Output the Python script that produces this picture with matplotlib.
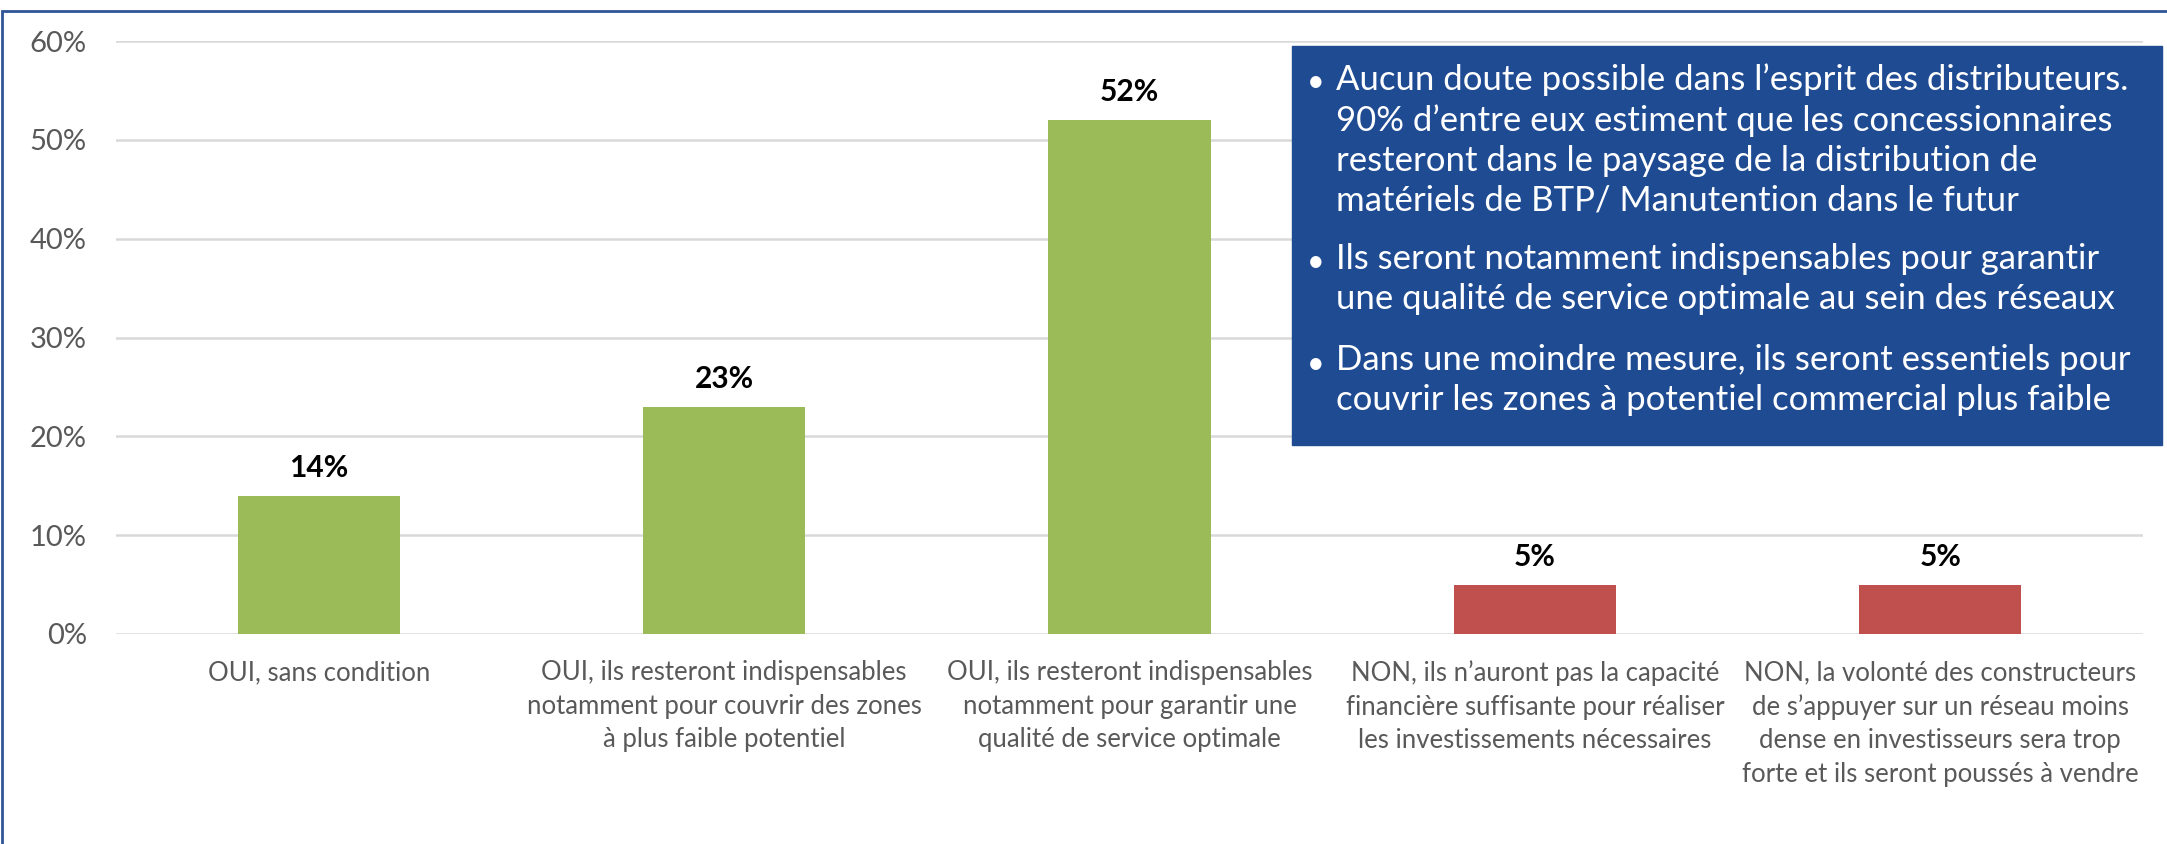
import matplotlib.pyplot as plt
from matplotlib.patches import Rectangle

# donnees du graphique
categories = [
    "OUI, sans condition",
    "OUI, ils resteront indispensables\nnotamment pour couvrir des zones\nà plus faible potentiel",
    "OUI, ils resteront indispensables\nnotamment pour garantir une\nqualité de service optimale",
    "NON, ils n\u2019auront pas la capacité\nfinancière suffisante pour réaliser\nles investissements nécessaires",
    "NON, la volonté des constructeurs\nde s\u2019appuyer sur un réseau moins\ndense en investisseurs sera trop\nforte et ils seront poussés à vendre",
]
valeurs = [0.14, 0.23, 0.52, 0.05, 0.05]
couleurs = ["#9BBB59", "#9BBB59", "#9BBB59", "#C0504D", "#C0504D"]
yticks = [0, 0.1, 0.2, 0.3, 0.4, 0.5, 0.6]

puces = [
    "Aucun doute possible dans l\u2019esprit des distributeurs.\n90% d\u2019entre eux estiment que les concessionnaires\nresteront dans le paysage de la distribution de\nmatériels de BTP/ Manutention dans le futur",
    "Ils seront notamment indispensables pour garantir\nune qualité de service optimale au sein des réseaux",
    "Dans une moindre mesure, ils seront essentiels pour\ncouvrir les zones à potentiel commercial plus faible",
]

plt.rcParams['font.family'] = ['Lato', 'DejaVu Sans']
W, H = 2167, 844
fig = plt.figure(figsize=(W / 100, H / 100), dpi=100)

def fx(px):
    return px / W

def fy(py):
    return 1 - py / H

# cadre bleu autour de la figure
fig.patches.append(Rectangle((fx(2), fy(H + 20)), 1.2, fy(11) - fy(H + 20), transform=fig.transFigure,
                             fill=False, edgecolor="#2F5597", linewidth=2))

ax = fig.add_axes([fx(116), fy(634), fx(2143) - fx(116), fy(41) - fy(634)])
x = list(range(len(valeurs)))
ax.bar(x, valeurs, width=0.4, color=couleurs, zorder=3)
ax.set_xlim(-0.5, len(valeurs) - 0.5)
ax.set_ylim(0, 0.6)
ax.set_yticks(yticks)
ax.set_yticklabels(["%d%%" % round(v * 100) for v in yticks], fontsize=21, color="#595959")
ax.yaxis.grid(True, color="#D9D9D9", linewidth=1.8, zorder=0)
ax.tick_params(axis="y", length=0, pad=21)
ax.tick_params(axis="x", length=0, pad=19)
ax.set_xticks(x)
ax.set_xticklabels(categories, fontsize=18.5, color="#595959", linespacing=1.42)
for s in ax.spines.values():
    s.set_visible(False)

for i, v in enumerate(valeurs):
    ax.annotate("%d%%" % round(v * 100), (i, v), xytext=(0, 14), textcoords="offset pixels",
                ha="center", va="bottom", fontsize=21.5, fontweight="bold", color="black")

# encadre de texte
fig.patches.append(Rectangle((fx(1292), fy(445)), fx(2162) - fx(1292), fy(46) - fy(445),
                             transform=fig.transFigure, color="#1F4B93", zorder=5))
centres = [140, 279, 380]
interligne = 41
for txt, c in zip(puces, centres):
    n = txt.count("\n") + 1
    fig.text(fx(1336), fy(c), txt, color="white", fontsize=25, va="center", ha="left",
             linespacing=1.31, zorder=6)
    fig.text(fx(1307), fy(c - (n - 1) * interligne / 2 + 4), "\u2022", color="white", fontsize=22,
             va="center", ha="left", zorder=6)

plt.savefig("out.png", dpi=100)
